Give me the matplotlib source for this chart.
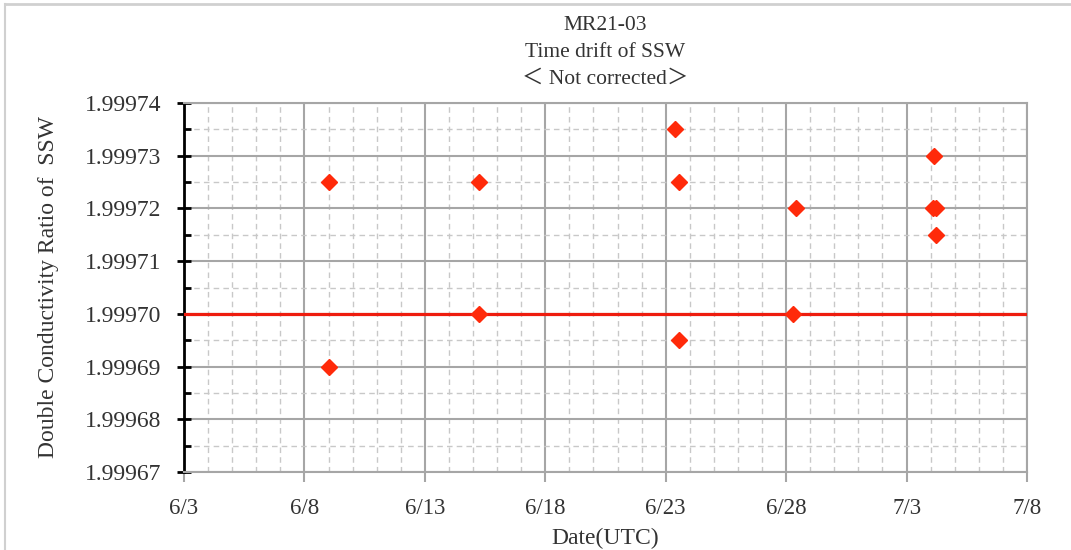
import pandas as pd
import matplotlib
matplotlib.use('Agg')
import matplotlib.pyplot as plt
import matplotlib.dates as mdates
from matplotlib.ticker import MultipleLocator, FormatStrFormatter
from matplotlib.lines import Line2D

# data
dates = ['2021-06-09 00:30', '2021-06-09 00:30',
         '2021-06-15 06:00', '2021-06-15 06:00',
         '2021-06-23 09:30', '2021-06-23 13:30', '2021-06-23 13:30',
         '2021-06-28 09:30', '2021-06-28 07:00',
         '2021-07-04 03:00', '2021-07-04 02:00', '2021-07-04 05:00', '2021-07-04 05:00']
ratio = [1.999725, 1.99969,
         1.999725, 1.99970,
         1.999735, 1.999725, 1.999695,
         1.99972, 1.99970,
         1.99973, 1.99972, 1.99972, 1.999715]
ref_value = 1.99970
title_lines = ['MR21-03', 'Time drift of SSW', '\uff1c Not corrected\uff1e']

plt.rcParams['font.family'] = ['Liberation Serif', 'Noto Sans CJK JP', 'DejaVu Sans']
fs = 17

x = pd.to_datetime(dates)
xmin = pd.Timestamp('2021-06-03')
xmax = pd.Timestamp('2021-07-08')

fig = plt.figure(figsize=(10.71, 5.5), dpi=100)
ax = fig.add_axes([184/1071, 1 - 472/550, (1027 - 184)/1071, (472 - 103)/550])

ax.set_xlim(xmin, xmax)
ax.set_ylim(1.99967, 1.99974)

ax.xaxis.set_major_locator(mdates.DayLocator(bymonthday=[3, 8, 13, 18, 23, 28]))
ax.xaxis.set_major_formatter(mdates.DateFormatter('%-m/%-d'))
ax.xaxis.set_minor_locator(mdates.DayLocator())
ax.yaxis.set_major_locator(MultipleLocator(0.00001))
ax.yaxis.set_minor_locator(MultipleLocator(0.000005))
ax.yaxis.set_major_formatter(FormatStrFormatter('%.5f'))

ax.grid(which='major', color='#a6a6a6', linewidth=1.5, linestyle='-')
ax.grid(which='minor', color='#c8c8c8', linewidth=1.0, linestyle=(0, (4, 3)))
ax.set_axisbelow(True)

for s in ['top', 'right', 'bottom']:
    ax.spines[s].set_color('#a6a6a6')
    ax.spines[s].set_linewidth(1.5)
ax.spines['left'].set_color('black')
ax.spines['left'].set_linewidth(2)

ax.tick_params(axis='y', which='major', direction='inout', length=10, width=2, color='black',
               labelsize=fs, pad=11, labelcolor='#333333')
ax.tick_params(axis='y', which='minor', direction='in', length=5, width=2, color='black')
ax.tick_params(axis='x', which='major', direction='out', length=7, width=1.5, color='#a6a6a6',
               labelsize=fs - 0.5, pad=12, labelcolor='#333333')
ax.tick_params(axis='x', which='minor', length=0)

ax.axhline(ref_value, color='#ee1c0e', linewidth=2.3, zorder=3)
ax.plot(x, ratio, linestyle='none', marker='D', markersize=8.5, color='#ff2a0a', zorder=4)

ax.set_xlabel('Date(UTC)', fontsize=fs, color='#333333', labelpad=6)
ax.set_ylabel('Double Conductivity Ratio of  SSW', fontsize=fs, color='#333333', labelpad=19)
ax.set_title('\n'.join(title_lines), fontsize=15.5, color='#333333', linespacing=1.55, pad=14)

# light frame around the figure (top and left edges visible in the reference)
fig.add_artist(Line2D([5/1071, 1], [1 - 4/550, 1 - 4/550], color='#d0d0d0', linewidth=2, transform=fig.transFigure))
fig.add_artist(Line2D([5/1071, 5/1071], [0, 1 - 4/550], color='#d0d0d0', linewidth=1.5, transform=fig.transFigure))

fig.savefig('out.png', dpi=100, facecolor='white')
